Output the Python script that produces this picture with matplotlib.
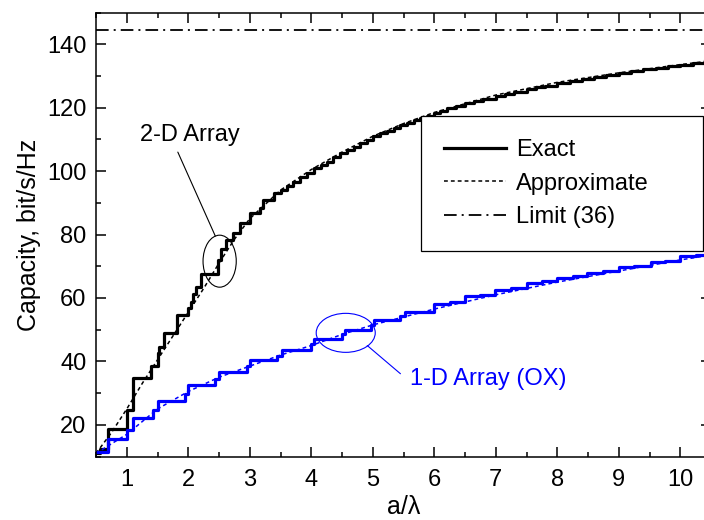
import matplotlib
matplotlib.use("Agg")
import matplotlib.pyplot as plt
from matplotlib.patches import Ellipse

plt.rcParams['font.family'] = ['Liberation Sans', 'DejaVu Sans']

# 2-D array, exact capacity (staircase, step starts)
x_2d = [0.50, 0.56, 0.70, 1.00, 1.10, 1.40, 1.50, 1.53, 1.60, 1.81, 2.00, 2.05, 2.08, 2.12,
        2.20, 2.48, 2.53, 2.62, 2.73, 2.84, 3.00, 3.17, 3.22, 3.39, 3.50, 3.60, 3.71, 3.82,
        3.93, 4.04, 4.15, 4.25, 4.36, 4.47, 4.58, 4.69, 4.80, 4.90, 5.01, 5.12, 5.23, 5.34,
        5.45, 5.56, 5.67, 5.77, 5.88, 5.99, 6.10, 6.20, 6.35, 6.50, 6.65, 6.80, 7.00, 7.15,
        7.30, 7.50, 7.65, 7.80, 8.00, 8.20, 8.40, 8.60, 8.80, 9.00, 9.20, 9.40, 9.60, 9.80,
        10.00, 10.20, 10.40, 10.50]
c_2d = [11.0, 12.5, 18.8, 24.8, 34.7, 38.7, 42.5, 44.5, 49.0, 54.5, 56.7, 58.7, 61.4, 63.4,
        67.5, 72.0, 75.5, 78.2, 80.4, 83.5, 86.7, 88.3, 90.8, 93.0, 94.2, 95.3, 96.5, 98.2,
        99.5, 100.9, 101.8, 102.9, 104.4, 105.6, 106.6, 107.7, 108.8, 109.8, 111.0, 112.0, 112.8, 113.6,
        114.4, 115.2, 116.0, 116.8, 117.5, 118.3, 119.1, 119.9, 120.6, 121.4, 122.1, 122.8, 123.8, 124.4,
        125.0, 125.8, 126.4, 127.0, 127.8, 128.4, 129.1, 129.7, 130.4, 131.0, 131.5, 132.1, 132.6, 133.1,
        133.6, 134.1, 134.6, 134.8]

# 2-D array, approximate
xa_2d = [0.5, 0.75, 1.0, 1.25, 1.5, 1.75, 2.0, 2.25, 2.5, 2.75, 3.0, 3.5, 4.0, 4.5, 5.0,
         5.5, 6.0, 7.0, 8.0, 9.0, 10.0, 10.5]
ca_2d = [11.0, 17.5, 25.0, 33.0, 40.5, 48.0, 55.5, 63.0, 71.0, 78.5, 85.0, 94.0, 100.5, 106.0, 111.0,
         115.0, 118.5, 124.0, 128.0, 131.0, 133.6, 134.8]

# 1-D array (OX), exact
x_1d = [0.50, 0.70, 1.00, 1.10, 1.43, 1.50, 1.95, 2.00, 2.44, 2.50, 2.95, 3.00, 3.45, 3.52,
        4.00, 4.05, 4.50, 4.55, 4.97, 5.02, 5.45, 5.52, 5.99, 6.25, 6.50, 6.75, 6.99, 7.25,
        7.50, 7.75, 8.00, 8.25, 8.49, 8.75, 9.00, 9.25, 9.52, 9.75, 10.00, 10.25, 10.50]
c_1d = [11.4, 15.4, 18.5, 22.0, 24.8, 27.4, 29.8, 32.4, 34.5, 36.6, 38.5, 40.3, 41.8, 43.6,
        45.5, 47.2, 48.6, 49.9, 51.5, 52.9, 54.2, 55.6, 58.0, 58.6, 60.5, 61.0, 62.6, 63.1,
        64.7, 65.2, 66.4, 66.9, 68.0, 68.5, 69.8, 70.2, 71.3, 71.7, 73.1, 73.4, 73.5]

# 1-D array (OX), approximate
xa_1d = [0.5, 1.0, 1.5, 2.0, 2.5, 3.0, 3.5, 4.0, 4.5, 5.0, 6.0, 7.0, 8.0, 9.0, 10.0, 10.5]
ca_1d = [11.0, 17.0, 25.0, 30.5, 35.0, 38.5, 42.0, 45.0, 48.5, 51.5, 56.5, 61.0, 65.0, 68.5, 72.0, 73.5]

limit = 144.5

blue = '#0000ff'

fig = plt.figure(figsize=(7.04, 5.2), dpi=100)
ax = fig.add_axes([0.1364, 0.1221, 0.8736, 0.8537])

ax.step(x_2d, c_2d, where='post', color='black', lw=2.3, label='Exact')
ax.plot(xa_2d, ca_2d, color='black', lw=1.1, linestyle=(0, (2.5, 2)), label='Approximate')
ax.step(x_1d, c_1d, where='post', color=blue, lw=2.3)
ax.plot(xa_1d, ca_1d, color=blue, lw=1.1, linestyle=(0, (2.5, 2)))
ax.axhline(limit, color='black', lw=1.3, linestyle=(0, (7, 2.8, 1.1, 2.8)), label='Limit (36)')

# annotations
ax.add_patch(Ellipse((2.51, 71.6), 0.54, 16.4, fill=False, color='black', lw=0.8))
ax.annotate('', xy=(2.44, 79.5), xytext=(1.83, 106.0),
            arrowprops=dict(arrowstyle='-', color='black', lw=0.8, shrinkA=0, shrinkB=0))
ax.text(2.03, 111.5, '2-D Array', fontsize=17, ha='center', va='center')

ax.add_patch(Ellipse((4.56, 49.0), 0.96, 12.3, fill=False, color=blue, lw=0.8))
ax.annotate('', xy=(4.91, 45.0), xytext=(5.45, 36.1),
            arrowprops=dict(arrowstyle='-', color=blue, lw=0.8, shrinkA=0, shrinkB=0))
ax.text(5.61, 34.6, '1-D Array (OX)', fontsize=17, ha='left', va='center', color=blue)

ax.set_xlim(0.5, 10.5)
ax.set_ylim(10, 150)
ax.set_xticks(range(1, 11))
ax.set_xticks([x + 0.5 for x in range(0, 11)], minor=True)
ax.set_yticks(range(20, 141, 20))
ax.set_yticks(range(10, 151, 20), minor=True)
ax.tick_params(which='both', direction='in', top=True, right=True, labelsize=17, width=1.1)
ax.tick_params(which='major', length=7)
ax.tick_params(which='minor', length=3.5)
ax.tick_params(axis='x', which='major', pad=9)
ax.tick_params(axis='y', which='major', pad=7)
for s in ax.spines.values():
    s.set_linewidth(1.1)

ax.set_xlabel('a/λ', fontsize=18, labelpad=3)
ax.set_ylabel('Capacity, bit/s/Hz', fontsize=18, labelpad=4)

leg = ax.legend(loc='upper left', bbox_to_anchor=(0.528, 0.568, 0.459, 0.2), mode='expand',
                fontsize=17, frameon=True, fancybox=False, edgecolor='black', framealpha=1,
                borderpad=1.0, labelspacing=0.48, handlelength=2.6, handletextpad=0.45,
                borderaxespad=0)
leg.get_frame().set_linewidth(0.9)

plt.savefig('out.png', dpi=100)
